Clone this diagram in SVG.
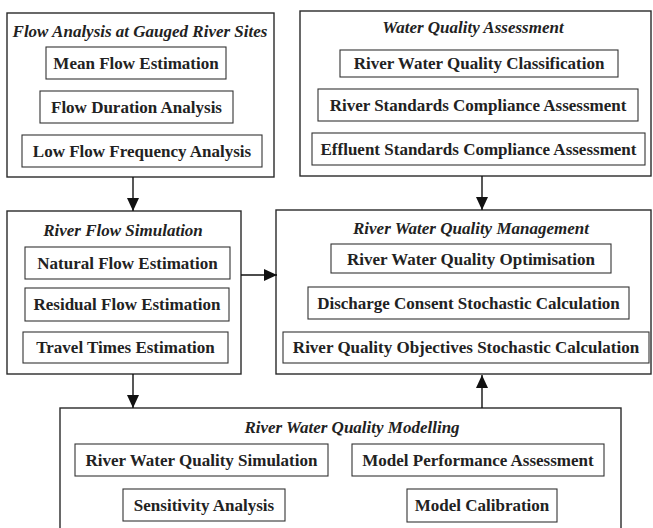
<svg xmlns="http://www.w3.org/2000/svg" width="653" height="528" viewBox="0 0 653 528">
<style>
.outer{fill:#fff;stroke:#2a2a2a;stroke-width:1.4}
.inner{fill:#fff;stroke:#333;stroke-width:1.1}
.t{font-family:"Liberation Serif","Times New Roman",serif;font-weight:bold;font-size:17px;fill:#222;text-anchor:middle}
.h{font-family:"Liberation Serif","Times New Roman",serif;font-weight:bold;font-style:italic;font-size:17px;fill:#222;text-anchor:middle}
.c{stroke:#111;stroke-width:1.4;fill:none}
</style>
<defs>
<marker id="ah" viewBox="0 0 13 12" refX="13" refY="6" markerWidth="13" markerHeight="12" markerUnits="userSpaceOnUse" orient="auto">
<path d="M0,0 L13,6 L0,12 Z" fill="#111"/>
</marker>
</defs>
<rect width="653" height="528" fill="#fff"/>
<g id="flow-analysis">
<rect class="outer" x="7" y="13" width="267" height="164"/>
<text class="h" x="140" y="37">Flow Analysis at Gauged River Sites</text>
<rect class="inner" x="46" y="47" width="180" height="32"/>
<text class="t" x="136" y="69">Mean Flow Estimation</text>
<rect class="inner" x="40" y="91" width="193" height="32"/>
<text class="t" x="136.5" y="113">Flow Duration Analysis</text>
<rect class="inner" x="22" y="135" width="240" height="32"/>
<text class="t" x="142" y="157">Low Flow Frequency Analysis</text>
</g>
<g id="water-quality-assessment">
<rect class="outer" x="300" y="11" width="351" height="165"/>
<text class="h" x="473" y="33">Water Quality Assessment</text>
<rect class="inner" x="340" y="50" width="278" height="27"/>
<text class="t" x="479" y="69">River Water Quality Classification</text>
<rect class="inner" x="318" y="89" width="320" height="32"/>
<text class="t" x="478" y="111">River Standards Compliance Assessment</text>
<rect class="inner" x="312" y="133" width="333" height="32"/>
<text class="t" x="478.5" y="155">Effluent Standards Compliance Assessment</text>
</g>
<g id="river-flow-simulation">
<rect class="outer" x="7" y="211" width="234" height="163"/>
<text class="h" x="123" y="236">River Flow Simulation</text>
<rect class="inner" x="25" y="247" width="205" height="32"/>
<text class="t" x="127.5" y="269">Natural Flow Estimation</text>
<rect class="inner" x="25" y="288" width="204" height="33"/>
<text class="t" x="127" y="310">Residual Flow Estimation</text>
<rect class="inner" x="23" y="332" width="205" height="31"/>
<text class="t" x="125.5" y="353">Travel Times Estimation</text>
</g>
<g id="river-water-quality-management">
<rect class="outer" x="276" y="210" width="375" height="164"/>
<text class="h" x="471" y="234">River Water Quality Management</text>
<rect class="inner" x="331" y="244" width="280" height="29"/>
<text class="t" x="471" y="265">River Water Quality Optimisation</text>
<rect class="inner" x="308" y="287" width="321" height="32"/>
<text class="t" x="468.5" y="309">Discharge Consent Stochastic Calculation</text>
<rect class="inner" x="283" y="332" width="366" height="31"/>
<text class="t" x="466" y="353">River Quality Objectives Stochastic Calculation</text>
</g>
<g id="river-water-quality-modelling">
<rect class="outer" x="60" y="408" width="561" height="140"/>
<text class="h" x="352" y="433">River Water Quality Modelling</text>
<rect class="inner" x="75" y="444" width="253" height="32"/>
<text class="t" x="201.5" y="466">River Water Quality Simulation</text>
<rect class="inner" x="352" y="444" width="252" height="32"/>
<text class="t" x="478" y="466">Model Performance Assessment</text>
<rect class="inner" x="123" y="489" width="162" height="32"/>
<text class="t" x="204" y="511">Sensitivity Analysis</text>
<rect class="inner" x="407" y="489" width="150" height="33"/>
<text class="t" x="482" y="511">Model Calibration</text>
</g>
<g id="connectors">
<line class="c" x1="133" y1="177" x2="133" y2="211" marker-end="url(#ah)"/>
<line class="c" x1="482" y1="176" x2="482" y2="210" marker-end="url(#ah)"/>
<line class="c" x1="241" y1="275" x2="277" y2="275" marker-end="url(#ah)"/>
<line class="c" x1="133" y1="374" x2="133" y2="408" marker-end="url(#ah)"/>
<line class="c" x1="482" y1="408" x2="482" y2="375" marker-end="url(#ah)"/>
</g>
</svg>
